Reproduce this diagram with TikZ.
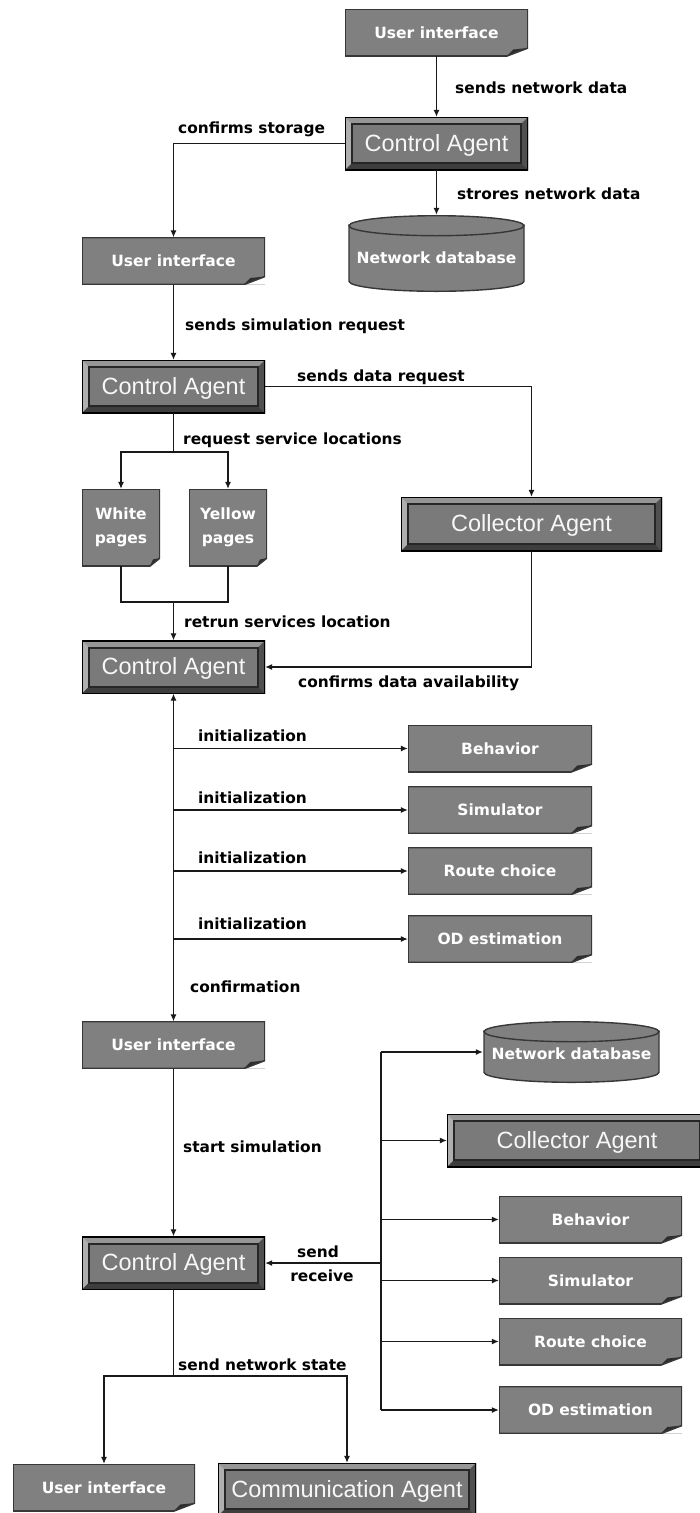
\documentclass[tikz,border=0pt]{standalone}
\usepackage{fontspec}
\newfontfamily\dvsans{DejaVu Sans}
\newfontfamily\libsans{Liberation Sans}
\usetikzlibrary{arrows.meta,calc}

\definecolor{boxgray}{RGB}{128,128,128}
\definecolor{edgedark}{RGB}{55,55,55}
\definecolor{bevtop}{RGB}{150,150,150}
\definecolor{bevleft}{RGB}{175,175,175}
\definecolor{bevright}{RGB}{80,80,80}
\definecolor{bevbot}{RGB}{62,62,62}
\definecolor{flapdark}{RGB}{45,45,45}
\definecolor{wire}{RGB}{25,25,25}

\tikzset{
  foldw/.store in=\foldw, foldw=21,
  wireline/.style={draw=wire, line width=1.1pt},
  arr/.style={wireline, -{Latex[length=7pt,width=6pt]}},
  lbl/.style={font=\dvsans\bfseries\fontsize{15.4}{18}\selectfont, text=black, inner sep=0, anchor=base west},
  doctext/.style={font=\dvsans\bfseries\fontsize{15.5}{24}\selectfont, text=white, align=center},
  % page with a curled bottom-right corner
  docbox/.style={doctext, fill=boxgray, minimum width=183pt, minimum height=47pt, inner sep=0,
    path picture={
      \fill[white] ([xshift=-\foldw pt]path picture bounding box.south east) -- (path picture bounding box.south east)
         -- ([yshift=8pt]path picture bounding box.south east) -- cycle;
      \fill[flapdark] ([xshift=-\foldw pt]path picture bounding box.south east)
         -- ([xshift=-0.7*\foldw pt,yshift=6.5pt]path picture bounding box.south east)
         -- ([yshift=8pt]path picture bounding box.south east) -- cycle;
      \draw[edgedark, line width=1.6pt] (path picture bounding box.north west) -- (path picture bounding box.north east)
         -- ([yshift=8pt]path picture bounding box.south east) -- ([xshift=-\foldw pt]path picture bounding box.south east)
         -- (path picture bounding box.south west) -- cycle;
    }},
  % raised button with a bevelled frame
  bevbox/.style={font=\libsans\fontsize{23.5}{28}\selectfont, text=white!94!gray, fill=boxgray,
    minimum width=183pt, minimum height=53pt, inner sep=0, text height=15pt, text depth=0pt,
    path picture={
      \fill[bevtop] (path picture bounding box.north west) -- (path picture bounding box.north east)
         -- ([shift={(-7pt,-7pt)}]path picture bounding box.north east) -- ([shift={(7pt,-7pt)}]path picture bounding box.north west) -- cycle;
      \fill[bevleft] (path picture bounding box.north west) -- (path picture bounding box.south west)
         -- ([shift={(7pt,7pt)}]path picture bounding box.south west) -- ([shift={(7pt,-7pt)}]path picture bounding box.north west) -- cycle;
      \fill[bevright] (path picture bounding box.north east) -- (path picture bounding box.south east)
         -- ([shift={(-7pt,7pt)}]path picture bounding box.south east) -- ([shift={(-7pt,-7pt)}]path picture bounding box.north east) -- cycle;
      \fill[bevbot] (path picture bounding box.south west) -- (path picture bounding box.south east)
         -- ([shift={(-7pt,7pt)}]path picture bounding box.south east) -- ([shift={(7pt,7pt)}]path picture bounding box.south west) -- cycle;
      \fill[boxgray!95!black] ([shift={(7pt,-7pt)}]path picture bounding box.north west) rectangle ([shift={(-7pt,7pt)}]path picture bounding box.south east);
      \draw[black!85, line width=2pt] ([shift={(7pt,-7pt)}]path picture bounding box.north west) rectangle ([shift={(-7pt,7pt)}]path picture bounding box.south east);
      \draw[black, line width=2pt] (path picture bounding box.north west) rectangle (path picture bounding box.south east);
    }},
  % database drum
  dbshape/.style={doctext, fill=white, minimum width=177pt, minimum height=77pt, inner sep=0,
    text height=19pt, text depth=0pt,
    path picture={
      \filldraw[fill=boxgray, draw=edgedark, line width=1.4pt]
         ([shift={(1pt,-10pt)}]path picture bounding box.north west) -- ([shift={(1pt,10.7pt)}]path picture bounding box.south west)
         arc[start angle=180, end angle=360, x radius=87.5pt, y radius=10pt]
         -- ([shift={(-1pt,-10pt)}]path picture bounding box.north east) -- cycle;
      \filldraw[fill=boxgray, draw=edgedark, line width=1.4pt]
         ([yshift=-10.7pt]path picture bounding box.north) ellipse[x radius=87.5pt, y radius=10pt];
    }},
}

\begin{document}
\begin{tikzpicture}[x=1pt,y=-1pt]
\useasboundingbox (0,0) rectangle (700,1513);
\clip (0,0) rectangle (700,1513);

% ---------- storing the network ----------
\node[docbox] (ui1) at (436.5,32.5) {User interface};
\node[bevbox] (ca1) at (436.5,143.5) {Control Agent};
\node[dbshape] (db1) at (436.5,253.5) {Network database};
\node[docbox] (ui2) at (173.5,261) {User interface};

\draw[arr] (ui1.south) -- (ca1.north);
\draw[arr] (ca1.south) -- (db1.north);
\draw[arr] (ca1.west) -| (ui2.north);
\node[lbl] at (455,93) {sends network data};
\node[lbl] at (178,133) {confirms storage};
\node[lbl] at (457,199) {strores network data};

% ---------- simulation request ----------
\node[bevbox] (ca2) at (173.5,386.5) {Control Agent};
\node[docbox, minimum width=78pt, minimum height=77pt, foldw=10] (wp) at (121,527.5) {White\\pages};
\node[docbox, minimum width=78pt, minimum height=77pt, foldw=10] (yp) at (228,527.5) {Yellow\\pages};
\node[bevbox, minimum width=261pt, minimum height=54pt] (col1) at (531.5,524) {Collector Agent};
\node[bevbox] (ca3) at (173.5,667) {Control Agent};

\draw[arr] (ui2.south) -- (ca2.north);
\draw[arr] (ca2.east) -| (col1.north);
\coordinate (fork1) at (173.5,452);
\draw[wireline] (ca2.south) -- (fork1);
\draw[arr] (fork1) -| (wp.north);
\draw[arr] (fork1) -| (yp.north);
\coordinate (join1) at (173.5,602);
\draw[wireline] (wp.south) |- (join1) -| (yp.south);
\draw[arr] (join1) -- (ca3.north);
\draw[arr] (col1.south) |- (ca3.east);

\node[lbl] at (185,330) {sends simulation request};
\node[lbl] at (297,381) {sends data request};
\node[lbl] at (183,444) {request service locations};
\node[lbl] at (184,627) {retrun services location};
\node[lbl] at (298,687) {confirms data availability};

% ---------- initialization ----------
\node[docbox, minimum width=184pt] (beh1) at (500,748.5) {Behavior};
\node[docbox, minimum width=184pt] (sim1) at (500,810) {Simulator};
\node[docbox, minimum width=184pt] (rc1) at (500,871) {Route choice};
\node[docbox, minimum width=184pt] (od1) at (500,939) {OD estimation};
\node[docbox] (ui4) at (173.5,1045) {User interface};

\draw[wireline, {Latex[length=7pt,width=6pt]}-{Latex[length=7pt,width=6pt]}] (ca3.south) -- (ui4.north);
\foreach \m in {beh1,sim1,rc1,od1}
  \draw[arr] (\m.west -| ca3.south) -- (\m.west);
\foreach \yy in {741,803,863,929}
  \node[lbl] at (198,\yy) {initialization};
\node[lbl] at (190,992) {confirmation};

% ---------- running the simulation ----------
\node[bevbox] (ca4) at (173.5,1263) {Control Agent};
\node[dbshape, minimum height=62pt, text height=15pt] (db2) at (571.5,1052) {Network database};
\node[bevbox, minimum width=260pt] (col2) at (577,1140.5) {Collector Agent};
\node[docbox] (beh2) at (590.5,1219.5) {Behavior};
\node[docbox] (sim2) at (590.5,1280.5) {Simulator};
\node[docbox] (rc2) at (590.5,1341.5) {Route choice};
\node[docbox] (od2) at (590.5,1410) {OD estimation};

\draw[arr] (ui4.south) -- (ca4.north);
\node[lbl] at (183,1152) {start simulation};

\coordinate (hub) at (381,1263);
\draw[wireline] (db2.west -| hub) -- (od2.west -| hub);
\foreach \m in {db2,col2,beh2,sim2,rc2,od2}
  \draw[arr] (\m.west -| hub) -- (\m.west);
\draw[arr] (hub) -- (ca4.east);
\node[lbl, anchor=base] at (318,1257) {send};
\node[lbl, anchor=base] at (322,1281) {receive};

% ---------- publishing the network state ----------
\node[docbox, minimum width=182pt] (ui5) at (104,1487.5) {User interface};
\node[bevbox, minimum width=258pt] (comm) at (347,1489.5) {Communication Agent};
\coordinate (fork2) at (173.5,1376);
\draw[wireline] (ca4.south) -- (fork2);
\draw[arr] (fork2) -| (ui5.north);
\draw[arr] (fork2) -| (comm.north);
\node[lbl] at (178,1370) {send network state};
\end{tikzpicture}
\end{document}
